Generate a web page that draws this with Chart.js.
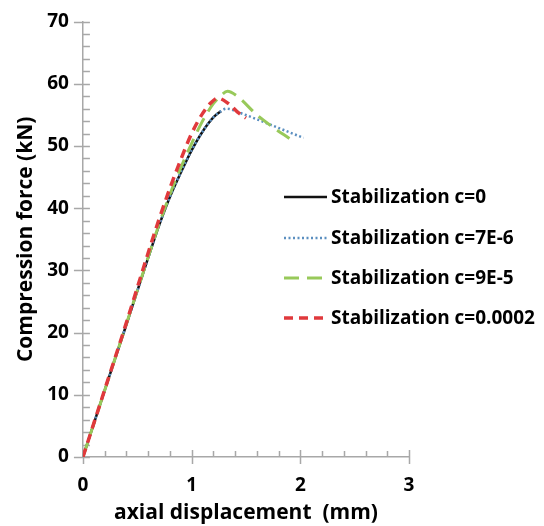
<!DOCTYPE html>
<html>
<head>
<meta charset="utf-8">
<script src="https://cdn.jsdelivr.net/npm/chart.js@4.4.0/dist/chart.umd.min.js"></script>
<style>
  html, body { margin: 0; padding: 0; background: #fff; }
  #chart { display: block; }
</style>
</head>
<body>
<canvas id="chart" width="544" height="526"></canvas>
<script>
// axial displacement (mm) / compression force (kN) per stabilization factor
const dispC0 = [0, 0.2, 0.4, 0.6, 0.7, 0.8, 0.9, 1.0, 1.1, 1.2, 1.27];
const forceC0 = [0, 10.7, 21.3, 32.0, 37.2, 41.8, 45.7, 49.3, 52.3, 54.6, 55.6];

const dispC7e6 = [0, 0.2, 0.4, 0.6, 0.7, 0.8, 0.9, 1.0, 1.1, 1.2, 1.27, 1.32, 1.45, 1.6, 1.8, 2.03];
const forceC7e6 = [0, 10.7, 21.3, 32.0, 37.2, 41.8, 45.7, 49.3, 52.3, 54.6, 55.6, 56.0, 55.3, 54.3, 52.9, 51.3];

const dispC9e5 = [0, 0.2, 0.4, 0.6, 0.7, 0.8, 0.9, 1.0, 1.1, 1.2, 1.27, 1.33, 1.42, 1.6, 1.75, 1.9];
const forceC9e5 = [0, 10.7, 21.4, 32.1, 37.4, 42.2, 46.5, 50.4, 54.0, 56.8, 58.1, 58.8, 58.0, 55.0, 53.0, 51.2];

const dispC2e4 = [0, 0.2, 0.4, 0.6, 0.7, 0.8, 0.9, 1.0, 1.1, 1.18, 1.24, 1.34, 1.42, 1.5];
const forceC2e4 = [0, 10.8, 21.6, 32.8, 38.2, 43.2, 47.8, 52.0, 55.2, 57.0, 57.7, 56.8, 55.5, 54.5];

const seriesLabels = [
  'Stabilization c=0',
  'Stabilization c=7E-6',
  'Stabilization c=9E-5',
  'Stabilization c=0.0002'
];

const xTicks = [0, 1, 2, 3];
const yTicks = [0, 10, 20, 30, 40, 50, 60, 70];

const FONT = '"Open Sans", Lato, sans-serif';
const AXIS_GREY = '#a8a8a8';

function pairs(xs, ys) {
  return xs.map((x, i) => ({ x: x, y: ys[i] }));
}

function isMajor(v, list) {
  return list.some(t => Math.abs(t - v) < 1e-6);
}

// small inward / crossing tick marks like the original plot
const tickMarks = {
  id: 'tickMarks',
  beforeDatasetsDraw(chart) {
    const ctx = chart.ctx;
    const xs = chart.scales.x;
    const ys = chart.scales.y;
    ctx.save();
    ctx.strokeStyle = AXIS_GREY;
    ctx.lineWidth = 1.5;
    ctx.beginPath();
    const y0 = chart.chartArea.bottom;
    for (const t of xs.ticks) {
      const px = Math.round(xs.getPixelForValue(t.value)) + 0.5;
      const major = isMajor(t.value, xTicks);
      ctx.moveTo(px, y0 - (major ? 7 : 6));
      ctx.lineTo(px, y0 + (major ? 7 : 0));
    }
    const x0 = chart.chartArea.left;
    for (const t of ys.ticks) {
      const py = Math.round(ys.getPixelForValue(t.value)) + 0.5;
      const major = isMajor(t.value, yTicks);
      ctx.moveTo(x0 - (major ? 9 : 0), py);
      ctx.lineTo(x0 + 7, py);
    }
    ctx.stroke();
    ctx.restore();
  }
};

// legend sits over the right part of the plot
const insetLegend = {
  id: 'insetLegend',
  afterDraw(chart) {
    const ctx = chart.ctx;
    const rows = [197, 238, 278, 318];
    ctx.save();
    ctx.font = 'bold 19px ' + FONT;
    ctx.textBaseline = 'middle';
    ctx.textAlign = 'left';
    chart.data.datasets.forEach((ds, i) => {
      const y = rows[i];
      ctx.beginPath();
      ctx.strokeStyle = ds.borderColor;
      ctx.lineWidth = ds.borderWidth;
      ctx.setLineDash(ds.borderDash || []);
      ctx.moveTo(284, y);
      ctx.lineTo(327, y);
      ctx.stroke();
      ctx.setLineDash([]);
      ctx.fillStyle = '#000';
      ctx.fillText(ds.label, 331, y + 1);
    });
    ctx.restore();
  }
};

new Chart(document.getElementById('chart'), {
  type: 'line',
  data: {
    datasets: [
      {
        label: seriesLabels[0],
        data: pairs(dispC0, forceC0),
        borderColor: '#111111',
        borderWidth: 2.5,
        order: 3
      },
      {
        label: seriesLabels[1],
        data: pairs(dispC7e6, forceC7e6),
        borderColor: '#5b8fc0',
        borderWidth: 2.5,
        borderDash: [2, 2.5],
        order: 2
      },
      {
        label: seriesLabels[2],
        data: pairs(dispC9e5, forceC9e5),
        borderColor: '#98c95a',
        borderWidth: 3,
        borderDash: [15, 8],
        order: 1
      },
      {
        label: seriesLabels[3],
        data: pairs(dispC2e4, forceC2e4),
        borderColor: '#e0393c',
        borderWidth: 3.5,
        borderDash: [9, 6],
        order: 0
      }
    ]
  },
  options: {
    responsive: false,
    animation: false,
    devicePixelRatio: 1,
    layout: { padding: { left: 9, right: 135, top: 0, bottom: 0 } },
    elements: {
      point: { radius: 0 },
      line: { fill: false, cubicInterpolationMode: 'monotone' }
    },
    plugins: {
      legend: { display: false },
      tooltip: { enabled: false }
    },
    scales: {
      x: {
        type: 'linear',
        min: 0,
        max: 3,
        border: { display: true, color: AXIS_GREY, width: 1.5 },
        grid: { display: true, drawOnChartArea: false, drawTicks: false },
        ticks: {
          stepSize: 0.2,
          autoSkip: false,
          maxRotation: 0,
          padding: 17,
          color: '#000',
          font: { family: FONT, size: 19, weight: 'bold' },
          callback: v => isMajor(v, xTicks) ? String(Math.round(v)) : ''
        },
        title: {
          display: true,
          text: 'axial displacement  (mm)',
          color: '#000',
          font: { family: FONT, size: 21, weight: 'bold' },
          padding: { top: -13, bottom: 0 }
        }
      },
      y: {
        type: 'linear',
        min: 0,
        max: 70,
        border: { display: true, color: AXIS_GREY, width: 1.5 },
        grid: { display: true, drawOnChartArea: false, drawTicks: false },
        ticks: {
          stepSize: 2,
          autoSkip: false,
          padding: 14,
          color: '#000',
          font: { family: FONT, size: 19, weight: 'bold', lineHeight: 0.8 },
          callback: v => isMajor(v, yTicks) ? String(Math.round(v)) : ''
        },
        title: {
          display: true,
          text: 'Compression force (kN)',
          color: '#000',
          font: { family: FONT, size: 21, weight: 'bold' },
          padding: { top: 4, bottom: -5 }
        }
      }
    }
  },
  plugins: [tickMarks, insetLegend]
});
</script>
</body>
</html>
